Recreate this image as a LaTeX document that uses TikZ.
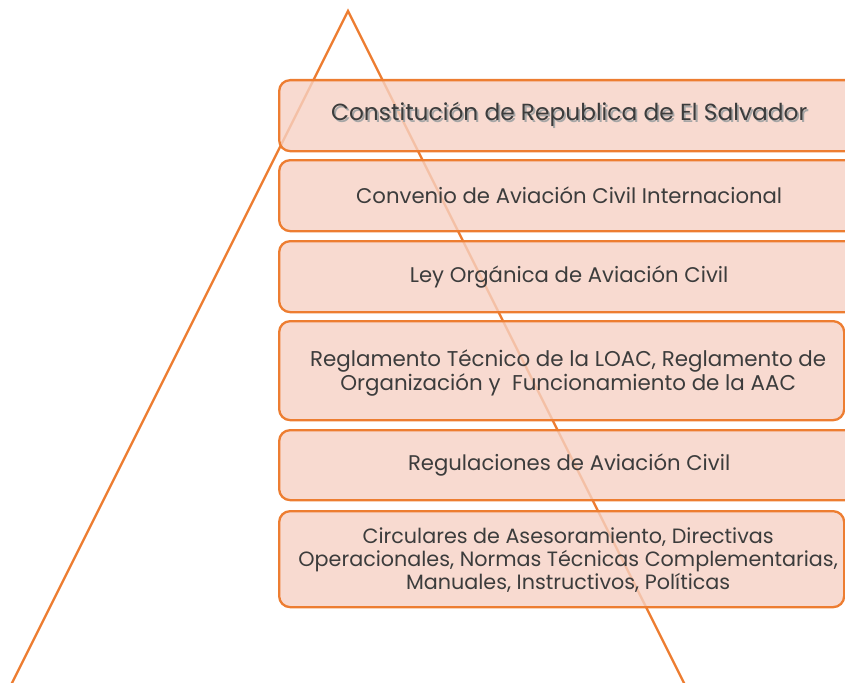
\documentclass[tikz,border=0pt]{standalone}
\usepackage{fontspec}
\setmainfont{Poppins}
\usetikzlibrary{positioning}
\definecolor{accent}{RGB}{237,125,49}
\definecolor{boxfill}{RGB}{246,209,196}
\definecolor{txtgray}{RGB}{60,60,60}
\newcommand{\withshadow}[1]{\rlap{\raisebox{-1.8pt}{\hspace{1.8pt}\color{black!35}#1}}#1}
\newcommand{\offcentre}[1]{\hspace*{13pt}\raisebox{-3pt}[\height][\depth]{\begin{tabular}{@{}c@{}}#1\end{tabular}}}
\tikzstyle{level} = [draw=accent, line width=2.3pt, rounded corners=11pt, fill=boxfill, fill opacity=0.8, text opacity=1, text=txtgray, align=center, anchor=north west, inner sep=0pt, font=\fontsize{21.2}{23.5}\selectfont]
\tikzstyle{edge} = [draw=accent, line width=2.3pt]

\begin{document}
\begin{tikzpicture}[x=1pt, y=-1pt]
        \useasboundingbox (0,0) rectangle (845,682);
        \clip (0,0) rectangle (845,682);
        % Triangle behind the boxes
        \coordinate (apex) at (348,11);
        \coordinate (baseL) at (8.5,690);
        \coordinate (baseR) at (687.5,690);
        \draw[edge] (baseL) -- (apex) -- (baseR);

        % Hierarchy levels
        \node[level, minimum width=580, minimum height=71, font=\fontsize{23.3}{26}\selectfont] (const) at (278,79) {\withshadow{Constitución de Republica de El Salvador}};
        \node[level, minimum width=580, minimum height=71] (conv) at (278,159) {Convenio de Aviación Civil Internacional};
        \node[level, minimum width=580, minimum height=71] (ley) at (278,240) {Ley Orgánica de Aviación Civil};
        \node[level, minimum width=565, minimum height=99, font=\fontsize{21.4}{24}\selectfont] (regl) at (278,320) {\offcentre{Reglamento Técnico de la LOAC, Reglamento de\\Organización y~ Funcionamiento de la AAC}};
        \node[level, minimum width=580, minimum height=70] (rac) at (278,429) {Regulaciones de Aviación Civil};
        \node[level, minimum width=565, minimum height=96, font=\fontsize{20.7}{23}\selectfont] (circ) at (278,510) {\offcentre{Circulares de Asesoramiento, Directivas\\Operacionales, Normas Técnicas Complementarias,\\Manuales, Instructivos, Políticas}};
      \end{tikzpicture}
\end{document}
